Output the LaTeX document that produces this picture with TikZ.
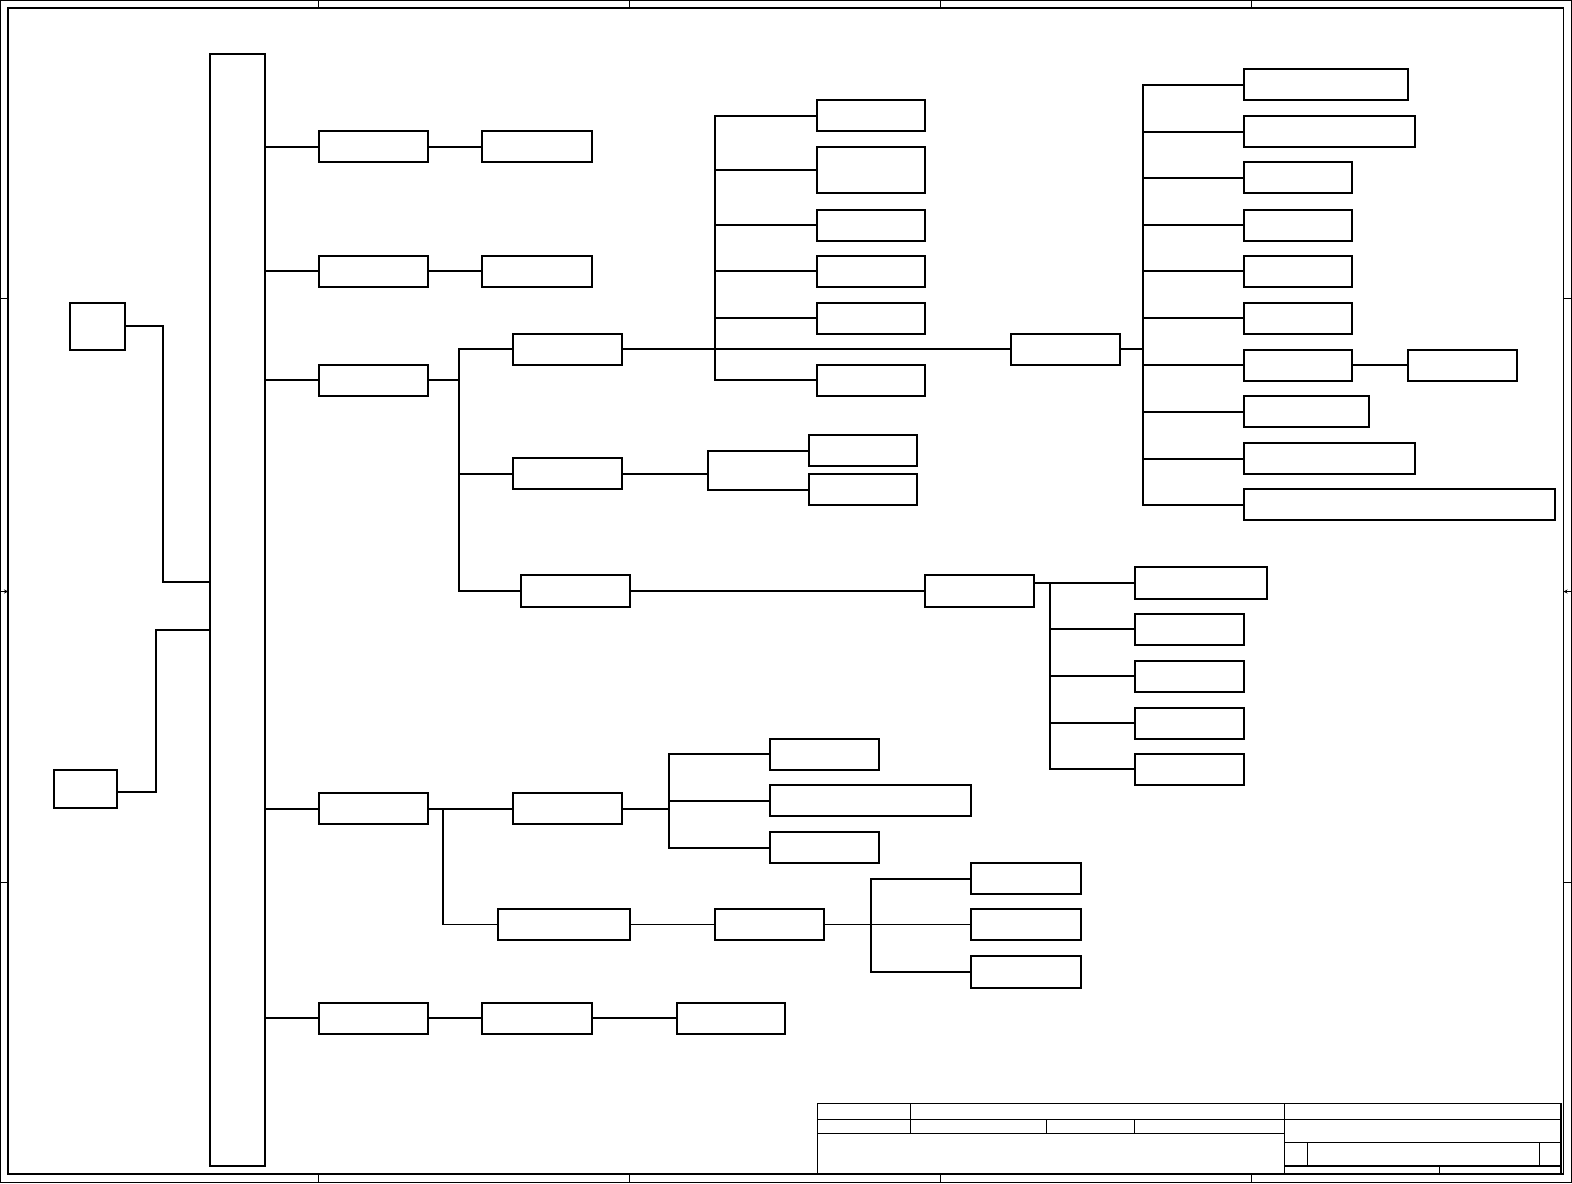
\documentclass[tikz,border=0pt]{standalone}
\usetikzlibrary{arrows.meta}
\newcommand{\bx}[5]{\node[box, minimum width={(#4-#2)*1.0026pt}, minimum height={(#5-#3)*1.0026pt}] (#1) at ({(#2+#4)/2},{(#3+#5)/2}) {};}
\begin{document}
\begin{tikzpicture}[x=1.0026pt,y=-1.0026pt,
  box/.style={draw,line width=2pt,inner sep=0pt,outer sep=0pt,fill=white},
  wire/.style={line width=2pt},
  thinwire/.style={line width=1.2pt},
  frame/.style={line width=1.2pt},
  tb/.style={line width=1.1pt}]
\useasboundingbox (0,0) rectangle (1568,1180);
% frame
\draw[frame] (0.6,0.6) rectangle (1567.4,1179.4);
\draw[frame] (8,8) rectangle (1559.5,1171);
\foreach \x in {318,628,938,1248}{
  \draw[frame] (\x,0.5) -- (\x,8);
  \draw[frame] (\x,1171) -- (\x,1179.5);}
\foreach \y in {298,880}{
  \draw[frame] (0.5,\y) -- (8,\y);
  \draw[frame] (1559.5,\y) -- (1567.5,\y);}
\coordinate (al0) at (0.5,590); \coordinate (al1) at (8,590);
\coordinate (ar0) at (1567.5,590); \coordinate (ar1) at (1559.5,590);
\draw[frame,-{Stealth[length=4pt,width=4pt]}] (al0) -- (al1);
\draw[frame,-{Stealth[length=4pt,width=4pt]}] (ar0) -- (ar1);
% title block
\draw[tb] (815,1101) rectangle (1557,1171);
\draw[tb] (815,1117) -- (1557,1117);
\draw[tb] (815,1131) -- (1281,1131);
\draw[tb] (1281,1140) -- (1557,1140);
\draw[tb] (1281,1163) -- (1557,1163);
\draw[tb] (908,1101) -- (908,1131);
\draw[tb] (1044,1117) -- (1044,1131);
\draw[tb] (1132,1117) -- (1132,1131);
\draw[tb] (1281,1101) -- (1281,1171);
\draw[tb] (1304,1140) -- (1304,1163);
\draw[tb] (1536,1140) -- (1536,1163);
\draw[tb] (1436,1163) -- (1436,1171);
% boxes
\bx{bus}{209}{54}{264}{1163}
\bx{srcA}{70}{302}{125}{349}
\bx{srcB}{54}{768}{117}{806}
\bx{r1a}{318}{131}{427}{162}
\bx{r1b}{481}{131}{590}{162}
\bx{r2a}{318}{255}{427}{286}
\bx{r2b}{481}{255}{590}{286}
\bx{r3a}{318}{364}{427}{395}
\bx{m1}{512}{333}{620}{364}
\bx{m2}{512}{457}{620}{488}
\bx{m3}{520}{574}{628}{605}
\bx{c1}{815}{100}{923}{131}
\bx{c2}{815}{147}{923}{193}
\bx{c3}{815}{209}{923}{240}
\bx{c4}{815}{255}{923}{286}
\bx{c5}{815}{302}{923}{333}
\bx{c6}{815}{364}{923}{395}
\bx{h}{1008}{333}{1117}{364}
\bx{e1}{1241}{69}{1404}{100}
\bx{e2}{1241}{116}{1411}{147}
\bx{e3}{1241}{162}{1349}{193}
\bx{e4}{1241}{209}{1349}{240}
\bx{e5}{1241}{255}{1349}{286}
\bx{e6}{1241}{302}{1349}{333}
\bx{e7}{1241}{349}{1349}{380}
\bx{e7b}{1404}{349}{1513}{380}
\bx{e8}{1241}{395}{1365}{426}
\bx{e9}{1241}{442}{1411}{473}
\bx{e10}{1241}{488}{1551}{519}
\bx{d1}{807}{434}{915}{465}
\bx{d2}{807}{473}{915}{504}
\bx{g}{923}{574}{1031}{605}
\bx{f1}{1132}{566}{1264}{597}
\bx{f2}{1132}{612}{1241}{643}
\bx{f3}{1132}{659}{1241}{690}
\bx{f4}{1132}{706}{1241}{737}
\bx{f5}{1132}{752}{1241}{783}
\bx{r4a}{318}{791}{427}{822}
\bx{n1}{512}{791}{620}{822}
\bx{n2}{497}{907}{628}{938}
\bx{k1}{768}{737}{877}{768}
\bx{k2}{768}{783}{969}{814}
\bx{k3}{768}{830}{877}{861}
\bx{p}{713}{907}{822}{938}
\bx{q1}{969}{861}{1078}{892}
\bx{q2}{969}{907}{1078}{938}
\bx{q3}{969}{954}{1078}{985}
\bx{r5a}{318}{1000}{427}{1031}
\bx{r5b}{481}{1000}{590}{1031}
\bx{r5c}{675}{1000}{783}{1031}
% trunk coordinates
\coordinate (ja) at (163,581);
\coordinate (jb) at (156,628);
\coordinate (t3) at (458,349);
\coordinate (t4) at (713,116);
\coordinate (t5) at (1140,85);
\coordinate (t6) at (706,450);
\coordinate (t7) at (1047,581);
\coordinate (t8) at (442,806);
\coordinate (t9) at (667,752);
\coordinate (t10) at (869,876);
% left sources
\draw[wire] (srcA.east) -| (ja) -- (bus.west |- ja);
\draw[wire] ([yshift=-3pt]srcB.east) -| (jb) -- (bus.west |- jb);
% bus branches
\foreach \n in {r1a,r2a,r3a,r4a,r5a}{\draw[wire] (bus.east |- \n.west) -- (\n.west);}
\draw[wire] (r1a.east) -- (r1b.west);
\draw[wire] (r2a.east) -- (r2b.west);
\draw[wire] (r5a.east) -- (r5b.west);
\draw[wire] (r5b.east) -- (r5c.west);
% row 3
\draw[wire] (r3a.east) -- (t3 |- r3a.east);
\draw[wire] (m1.west) -- (t3 |- m1.west) -- (t3 |- m3.west) -- (m3.west);
\draw[wire] (m2.west) -- (t3 |- m2.west);
\draw[wire] (m1.east) -- (h.west);
\draw[wire] (c1.west) -- (t4 |- c1.west) -- (t4 |- c6.west) -- (c6.west);
\foreach \n in {c2,c3,c4,c5}{\draw[wire] (t4 |- \n.west) -- (\n.west);}
\draw[wire] (h.east) -- (t5 |- h.east);
\draw[wire] (e1.west) -- (t5 |- e1.west) -- (t5 |- e10.west) -- (e10.west);
\foreach \n in {e2,e3,e4,e5,e6,e7,e8,e9}{\draw[wire] (t5 |- \n.west) -- (\n.west);}
\draw[wire] (e7.east) -- (e7b.west);
\draw[wire] (m2.east) -- (t6 |- m2.east);
\draw[wire] (d1.west) -- (t6 |- d1.west) -- (t6 |- d2.west) -- (d2.west);
\draw[wire] (m3.east) -- (g.west);
\draw[wire] (g.east |- f1.west) -- (f1.west);
\draw[wire] (t7 |- f1.west) -- (t7 |- f5.west) -- (f5.west);
\foreach \n in {f2,f3,f4}{\draw[wire] (t7 |- \n.west) -- (\n.west);}
% row 4
\draw[wire] (r4a.east) -- (n1.west);
\draw[wire] (t8 |- n1.west) -- (t8 |- n2.west);
\draw[thinwire] (t8 |- n2.west) -- (n2.west);
\draw[wire] (n1.east) -- (t9 |- n1.east);
\draw[wire] (k1.west) -- (t9 |- k1.west) -- (t9 |- k3.west) -- (k3.west);
\draw[wire] (t9 |- k2.west) -- (k2.west);
\draw[thinwire] (n2.east) -- (p.west);
\draw[thinwire] (p.east) -- (q2.west);
\draw[wire] (q1.west) -- (t10 |- q1.west) -- (t10 |- q3.west) -- (q3.west);
\end{tikzpicture}
\end{document}
